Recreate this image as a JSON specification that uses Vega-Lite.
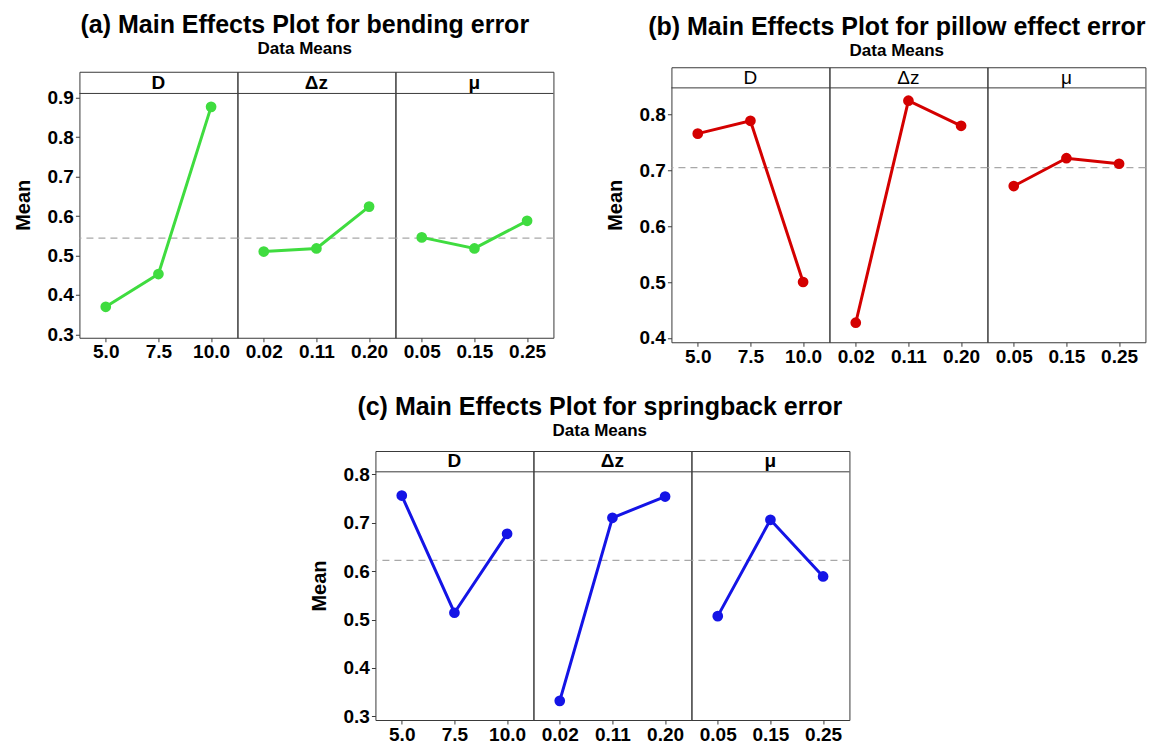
{
  "$schema": "https://vega.github.io/schema/vega-lite/v6.json",
  "padding": {"left": 13, "top": 13, "right": 0, "bottom": 0},
  "datasets": {
    "a": [
      {"factor": "D", "level": "5.0", "mean": 0.370},
      {"factor": "D", "level": "7.5", "mean": 0.453},
      {"factor": "D", "level": "10.0", "mean": 0.877},
      {"factor": "Δz", "level": "0.02", "mean": 0.510},
      {"factor": "Δz", "level": "0.11", "mean": 0.518},
      {"factor": "Δz", "level": "0.20", "mean": 0.624},
      {"factor": "μ", "level": "0.05", "mean": 0.546},
      {"factor": "μ", "level": "0.15", "mean": 0.518},
      {"factor": "μ", "level": "0.25", "mean": 0.588}
    ],
    "b": [
      {"factor": "D", "level": "5.0", "mean": 0.766},
      {"factor": "D", "level": "7.5", "mean": 0.789},
      {"factor": "D", "level": "10.0", "mean": 0.500},
      {"factor": "Δz", "level": "0.02", "mean": 0.427},
      {"factor": "Δz", "level": "0.11", "mean": 0.825},
      {"factor": "Δz", "level": "0.20", "mean": 0.780},
      {"factor": "μ", "level": "0.05", "mean": 0.672},
      {"factor": "μ", "level": "0.15", "mean": 0.722},
      {"factor": "μ", "level": "0.25", "mean": 0.712}
    ],
    "c": [
      {"factor": "D", "level": "5.0", "mean": 0.756},
      {"factor": "D", "level": "7.5", "mean": 0.514},
      {"factor": "D", "level": "10.0", "mean": 0.677},
      {"factor": "Δz", "level": "0.02", "mean": 0.332},
      {"factor": "Δz", "level": "0.11", "mean": 0.710},
      {"factor": "Δz", "level": "0.20", "mean": 0.754},
      {"factor": "μ", "level": "0.05", "mean": 0.507},
      {"factor": "μ", "level": "0.15", "mean": 0.706},
      {"factor": "μ", "level": "0.25", "mean": 0.589}
    ]
  },
  "vconcat": [
    {
      "hconcat": [
        {
          "data": {"name": "a"},
          "title": {"text": "(a) Main Effects Plot for bending error", "subtitle": "Data Means", "anchor": "middle", "offset": 14, "dx": 21},
          "facet": {"column": {"field": "factor", "type": "nominal", "sort": ["D", "Δz", "μ"], "header": null}},
          "spacing": 0,
          "bounds": "flush",
          "resolve": {"scale": {"x": "independent"}},
          "spec": {
            "width": 158,
            "height": 266,
            "layer": [
              {
                "transform": [{"aggregate": [{"op": "count", "as": "n"}], "groupby": ["factor"]}],
                "mark": {"type": "rule", "color": "#a8a8a8", "strokeDash": [7, 5], "strokeWidth": 1.3},
                "encoding": {"y": {"datum": 0.544, "type": "quantitative", "title": "Mean", "scale": {"domain": [0.2915, 0.966], "nice": false, "zero": false}}}
              },
              {
                "mark": {"type": "line", "color": "#3fdc3f", "strokeWidth": 3},
                "encoding": {
                  "x": {"field": "level", "type": "ordinal", "sort": null, "axis": {"title": null, "labelAngle": 0}},
                  "y": {"field": "mean", "type": "quantitative", "title": "Mean", "scale": {"domain": [0.2915, 0.966], "nice": false, "zero": false}, "axis": {"values": [0.3, 0.4, 0.5, 0.6, 0.7, 0.8, 0.9], "format": ".1f"}}
                }
              },
              {
                "mark": {"type": "circle", "color": "#3fdc3f", "size": 115, "opacity": 1},
                "encoding": {
                  "x": {"field": "level", "type": "ordinal", "sort": null},
                  "y": {"field": "mean", "type": "quantitative", "title": "Mean", "scale": {"domain": [0.2915, 0.966], "nice": false, "zero": false}}
                }
              },
              {
                "transform": [{"aggregate": [{"op": "count", "as": "n"}], "groupby": ["factor"]}],
                "mark": {"type": "rule", "color": "#3a3a3a", "strokeWidth": 1},
                "encoding": {"y": {"datum": 0.911, "type": "quantitative", "title": "Mean", "scale": {"domain": [0.2915, 0.966], "nice": false, "zero": false}}}
              },
              {
                "transform": [{"aggregate": [{"op": "count", "as": "n"}], "groupby": ["factor"]}],
                "mark": {"type": "text", "font": "Liberation Sans", "fontSize": 19, "fontWeight": "bold", "baseline": "middle", "align": "center", "color": "#000"},
                "encoding": {
                  "text": {"field": "factor"},
                  "y": {"datum": 0.9385, "type": "quantitative", "title": "Mean", "scale": {"domain": [0.2915, 0.966], "nice": false, "zero": false}}
                }
              }
            ]
          }
        },
        {
          "data": {"name": "b"},
          "title": {"text": "(b) Main Effects Plot for pillow effect error", "subtitle": "Data Means", "anchor": "middle", "offset": 8, "dx": 21},
          "facet": {"column": {"field": "factor", "type": "nominal", "sort": ["D", "Δz", "μ"], "header": null}},
          "spacing": 0,
          "bounds": "flush",
          "resolve": {"scale": {"x": "independent"}},
          "spec": {
            "width": 158,
            "height": 275,
            "layer": [
              {
                "transform": [{"aggregate": [{"op": "count", "as": "n"}], "groupby": ["factor"]}],
                "mark": {"type": "rule", "color": "#a8a8a8", "strokeDash": [7, 5], "strokeWidth": 1.3},
                "encoding": {"y": {"datum": 0.705, "type": "quantitative", "title": "Mean", "scale": {"domain": [0.392, 0.885], "nice": false, "zero": false}}}
              },
              {
                "mark": {"type": "line", "color": "#d40000", "strokeWidth": 3},
                "encoding": {
                  "x": {"field": "level", "type": "ordinal", "sort": null, "axis": {"title": null, "labelAngle": 0}},
                  "y": {"field": "mean", "type": "quantitative", "title": "Mean", "scale": {"domain": [0.392, 0.885], "nice": false, "zero": false}, "axis": {"values": [0.4, 0.5, 0.6, 0.7, 0.8], "format": ".1f"}}
                }
              },
              {
                "mark": {"type": "circle", "color": "#d40000", "size": 115, "opacity": 1},
                "encoding": {
                  "x": {"field": "level", "type": "ordinal", "sort": null},
                  "y": {"field": "mean", "type": "quantitative", "title": "Mean", "scale": {"domain": [0.392, 0.885], "nice": false, "zero": false}}
                }
              },
              {
                "transform": [{"aggregate": [{"op": "count", "as": "n"}], "groupby": ["factor"]}],
                "mark": {"type": "rule", "color": "#3a3a3a", "strokeWidth": 1},
                "encoding": {"y": {"datum": 0.848, "type": "quantitative", "title": "Mean", "scale": {"domain": [0.392, 0.885], "nice": false, "zero": false}}}
              },
              {
                "transform": [{"aggregate": [{"op": "count", "as": "n"}], "groupby": ["factor"]}],
                "mark": {"type": "text", "font": "Liberation Sans", "fontSize": 19, "fontWeight": "normal", "baseline": "middle", "align": "center", "color": "#000"},
                "encoding": {
                  "text": {"field": "factor"},
                  "y": {"datum": 0.8665, "type": "quantitative", "title": "Mean", "scale": {"domain": [0.392, 0.885], "nice": false, "zero": false}}
                }
              }
            ]
          }
        }
      ],
      "spacing": 49,
      "center": true
    },
    {
      "data": {"name": "c"},
      "title": {"text": "(c) Main Effects Plot for springback error", "subtitle": "Data Means", "anchor": "middle", "offset": 12, "dx": 20},
      "facet": {"column": {"field": "factor", "type": "nominal", "sort": ["D", "Δz", "μ"], "header": null}},
      "spacing": 0,
      "bounds": "flush",
      "resolve": {"scale": {"x": "independent"}},
      "spec": {
        "width": 158,
        "height": 269,
        "layer": [
          {
            "transform": [{"aggregate": [{"op": "count", "as": "n"}], "groupby": ["factor"]}],
            "mark": {"type": "rule", "color": "#a8a8a8", "strokeDash": [7, 5], "strokeWidth": 1.3},
            "encoding": {"y": {"datum": 0.622, "type": "quantitative", "title": "Mean", "scale": {"domain": [0.2925, 0.848], "nice": false, "zero": false}}}
          },
          {
            "mark": {"type": "line", "color": "#1414e6", "strokeWidth": 3},
            "encoding": {
              "x": {"field": "level", "type": "ordinal", "sort": null, "axis": {"title": null, "labelAngle": 0}},
              "y": {"field": "mean", "type": "quantitative", "title": "Mean", "scale": {"domain": [0.2925, 0.848], "nice": false, "zero": false}, "axis": {"values": [0.3, 0.4, 0.5, 0.6, 0.7, 0.8], "format": ".1f"}}
            }
          },
          {
            "mark": {"type": "circle", "color": "#1414e6", "size": 115, "opacity": 1},
            "encoding": {
              "x": {"field": "level", "type": "ordinal", "sort": null},
              "y": {"field": "mean", "type": "quantitative", "title": "Mean", "scale": {"domain": [0.2925, 0.848], "nice": false, "zero": false}}
            }
          },
          {
            "transform": [{"aggregate": [{"op": "count", "as": "n"}], "groupby": ["factor"]}],
            "mark": {"type": "rule", "color": "#3a3a3a", "strokeWidth": 1},
            "encoding": {"y": {"datum": 0.805, "type": "quantitative", "title": "Mean", "scale": {"domain": [0.2925, 0.848], "nice": false, "zero": false}}}
          },
          {
            "transform": [{"aggregate": [{"op": "count", "as": "n"}], "groupby": ["factor"]}],
            "mark": {"type": "text", "font": "Liberation Sans", "fontSize": 19, "fontWeight": "bold", "baseline": "middle", "align": "center", "color": "#000"},
            "encoding": {
              "text": {"field": "factor"},
              "y": {"datum": 0.8265, "type": "quantitative", "title": "Mean", "scale": {"domain": [0.2925, 0.848], "nice": false, "zero": false}}
            }
          }
        ]
      }
    }
  ],
  "spacing": 27,
  "center": true,
  "config": {
    "font": "Liberation Sans",
    "view": {"stroke": "#3a3a3a", "strokeWidth": 1},
    "axis": {
      "grid": false,
      "domain": false,
      "labelFont": "Liberation Sans",
      "labelFontSize": 19,
      "labelFontWeight": "bold",
      "labelColor": "#000",
      "tickColor": "#3a3a3a",
      "tickSize": 4,
      "labelPadding": 2,
      "titleFont": "Liberation Sans",
      "titleFontSize": 20,
      "titleFontWeight": "bold",
      "titleColor": "#000",
      "titlePadding": 14
    },
    "axisX": {"labelPadding": 1},
    "title": {
      "font": "Liberation Sans",
      "fontSize": 25,
      "fontWeight": "bold",
      "color": "#000",
      "subtitleFont": "Liberation Sans",
      "subtitleFontSize": 17,
      "subtitleFontWeight": "bold",
      "subtitleColor": "#000",
      "subtitlePadding": 3
    }
  }
}
